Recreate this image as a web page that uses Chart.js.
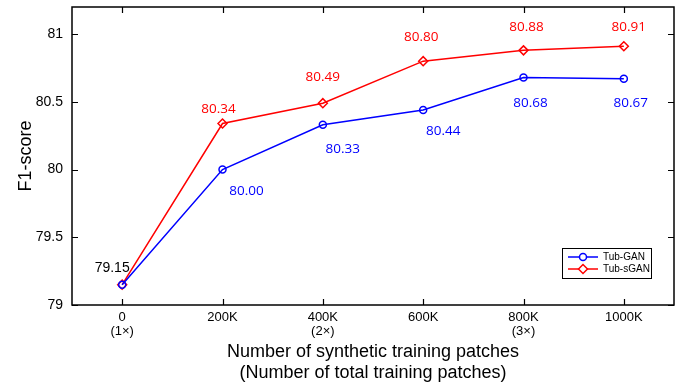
<!DOCTYPE html>
<html>
<head>
<meta charset="utf-8">
<script src="https://cdn.jsdelivr.net/npm/chart.js@4.4.0/dist/chart.umd.min.js"></script>
<style>
  html, body { margin: 0; padding: 0; background: #fff; }
  #wrap { width: 683px; height: 385px; }
</style>
</head>
<body>
<div id="wrap"><canvas id="myChart"></canvas></div>
<script>
// chart values
var categories = [['0', '(1\u00d7)'], '200K', ['400K', '(2\u00d7)'], '600K', ['800K', '(3\u00d7)'], '1000K'];
var tubGan = [79.15, 80.00, 80.33, 80.44, 80.68, 80.67];
var tubSGan = [79.15, 80.34, 80.49, 80.80, 80.88, 80.91];
var yTicks = [79, 79.5, 80, 80.5, 81];

// where each value label sits relative to its point (px)
var ganLabelOffsets = [[0, 0], [24, 22], [20, 24], [20, 21], [7, 26], [7, 24]];
var sganLabelOffsets = [[-10, -17], [-4, -14], [0, -26], [-2, -24], [3, -23], [5, -19]];

// draws inward ticks on all four sides, the box, the value labels and the legend
var matlabStyle = {
    id: 'matlabStyle',
    afterDatasetsDraw: function(chart) {
        var ctx = chart.ctx;
        var a = chart.chartArea;
        var x = chart.scales.x, y = chart.scales.y;
        ctx.save();
        ctx.strokeStyle = '#000';
        ctx.lineWidth = 1.2;
        ctx.beginPath();
        for (var i = 0; i < categories.length; i++) {
            var px = Math.round(x.getPixelForValue(i)) + 0.5;
            ctx.moveTo(px, a.bottom); ctx.lineTo(px, a.bottom - 6);
            ctx.moveTo(px, a.top); ctx.lineTo(px, a.top + 6);
        }
        for (var j = 0; j < yTicks.length; j++) {
            var py = Math.round(y.getPixelForValue(yTicks[j])) + 0.5;
            ctx.moveTo(a.left, py); ctx.lineTo(a.left + 6, py);
            ctx.moveTo(a.right, py); ctx.lineTo(a.right - 6, py);
        }
        ctx.stroke();
        ctx.lineWidth = 1.5;
        ctx.strokeRect(a.left, a.top, a.right - a.left, a.bottom - a.top);

        // value labels
        ctx.textAlign = 'center';
        ctx.textBaseline = 'middle';
        var gan = chart.getDatasetMeta(0).data;
        var sgan = chart.getDatasetMeta(1).data;
        ctx.font = '13.5px "Open Sans"';
        ctx.fillStyle = '#0000ff';
        for (var k = 1; k < gan.length; k++) {
            ctx.fillText(tubGan[k].toFixed(2), gan[k].x + ganLabelOffsets[k][0], gan[k].y + ganLabelOffsets[k][1]);
        }
        ctx.fillStyle = '#ff0000';
        for (var k = 1; k < sgan.length; k++) {
            ctx.fillText(tubSGan[k].toFixed(2), sgan[k].x + sganLabelOffsets[k][0], sgan[k].y + sganLabelOffsets[k][1]);
        }
        ctx.font = '14px "Liberation Sans"';
        ctx.fillStyle = '#000';
        ctx.fillText(tubSGan[0].toFixed(2), sgan[0].x + sganLabelOffsets[0][0], sgan[0].y + sganLabelOffsets[0][1]);

        // legend
        var lx = 562, ly = 248, lw = 89, lh = 30;
        ctx.fillStyle = '#fff';
        ctx.fillRect(lx, ly, lw, lh);
        ctx.lineWidth = 1;
        ctx.strokeStyle = '#000';
        ctx.strokeRect(lx + 0.5, ly + 0.5, lw, lh);
        var rows = [
            {label: 'Tub-GAN', color: '#0000ff', style: 'circle', y: ly + 9},
            {label: 'Tub-sGAN', color: '#ff0000', style: 'rectRot', y: ly + 21}
        ];
        ctx.font = '10px "Liberation Sans"';
        ctx.textAlign = 'left';
        rows.forEach(function(r) {
            ctx.strokeStyle = r.color;
            ctx.lineWidth = 1.5;
            ctx.beginPath();
            ctx.moveTo(lx + 6, r.y); ctx.lineTo(lx + 36, r.y);
            ctx.stroke();
            ctx.fillStyle = '#fff';
            Chart.helpers.drawPoint(ctx, {pointStyle: r.style, radius: r.style === 'circle' ? 3.5 : 4.5, borderWidth: 1.5}, lx + 21, r.y);
            ctx.fillStyle = '#000';
            ctx.fillText(r.label, lx + 41, r.y + 0.5);
        });
        ctx.restore();
    }
};

const ctx = document.getElementById('myChart');
new Chart(ctx, {
    type: 'line',
    data: {
        labels: categories,
        datasets: [{
            label: 'Tub-GAN',
            data: tubGan,
            borderColor: '#0000ff',
            backgroundColor: 'rgba(0,0,0,0)',
            borderWidth: 1.5,
            pointStyle: 'circle',
            pointRadius: 3.5,
            pointBorderWidth: 1.5,
            pointBackgroundColor: 'rgba(0,0,0,0)',
            tension: 0
        }, {
            label: 'Tub-sGAN',
            data: tubSGan,
            borderColor: '#ff0000',
            backgroundColor: 'rgba(0,0,0,0)',
            borderWidth: 1.5,
            pointStyle: 'rectRot',
            pointRadius: 4.5,
            pointBorderWidth: 1.5,
            pointBackgroundColor: 'rgba(0,0,0,0)',
            tension: 0
        }]
    },
    options: {
        responsive: true,
        maintainAspectRatio: false,
        animation: false,
        layout: { padding: { left: 0, right: 9, top: 7, bottom: 0 } },
        plugins: { legend: { display: false }, tooltip: { enabled: false } },
        scales: {
            x: {
                type: 'category',
                offset: true,
                grid: { display: false, drawTicks: false },
                border: { display: false },
                ticks: {
                    color: '#000',
                    font: { family: '"Liberation Sans"', size: 13, lineHeight: 1.1 },
                    padding: 5,
                    maxRotation: 0,
                    autoSkip: false
                },
                title: {
                    display: true,
                    text: ['Number of synthetic training patches', '(Number of total training patches)'],
                    color: '#000',
                    font: { family: '"Liberation Sans"', size: 18, lineHeight: 1.2 },
                    padding: { top: 0, bottom: 1 }
                },
                afterFit: function(scale) {
                    scale.height = 80;
                    scale.paddingLeft = 0;
                    scale.paddingRight = 0;
                }
            },
            y: {
                min: 79,
                max: 81.2,
                grid: { display: false, drawTicks: false },
                border: { display: false },
                afterBuildTicks: function(scale) {
                    scale.ticks = yTicks.map(function(v) { return {value: v}; });
                },
                ticks: {
                    color: '#000',
                    font: { family: '"Liberation Sans"', size: 14 },
                    padding: 9,
                    callback: function(value) { return String(value); }
                },
                title: {
                    display: true,
                    text: 'F1-score',
                    color: '#000',
                    font: { family: '"Liberation Sans"', size: 18, lineHeight: 1.2 },
                    padding: { top: 15, bottom: 0 }
                },
                afterFit: function(scale) {
                    scale.width = 72;
                    scale.paddingTop = 0;
                    scale.paddingBottom = 0;
                }
            }
        }
    },
    plugins: [matlabStyle]
});
</script>
</body>
</html>
